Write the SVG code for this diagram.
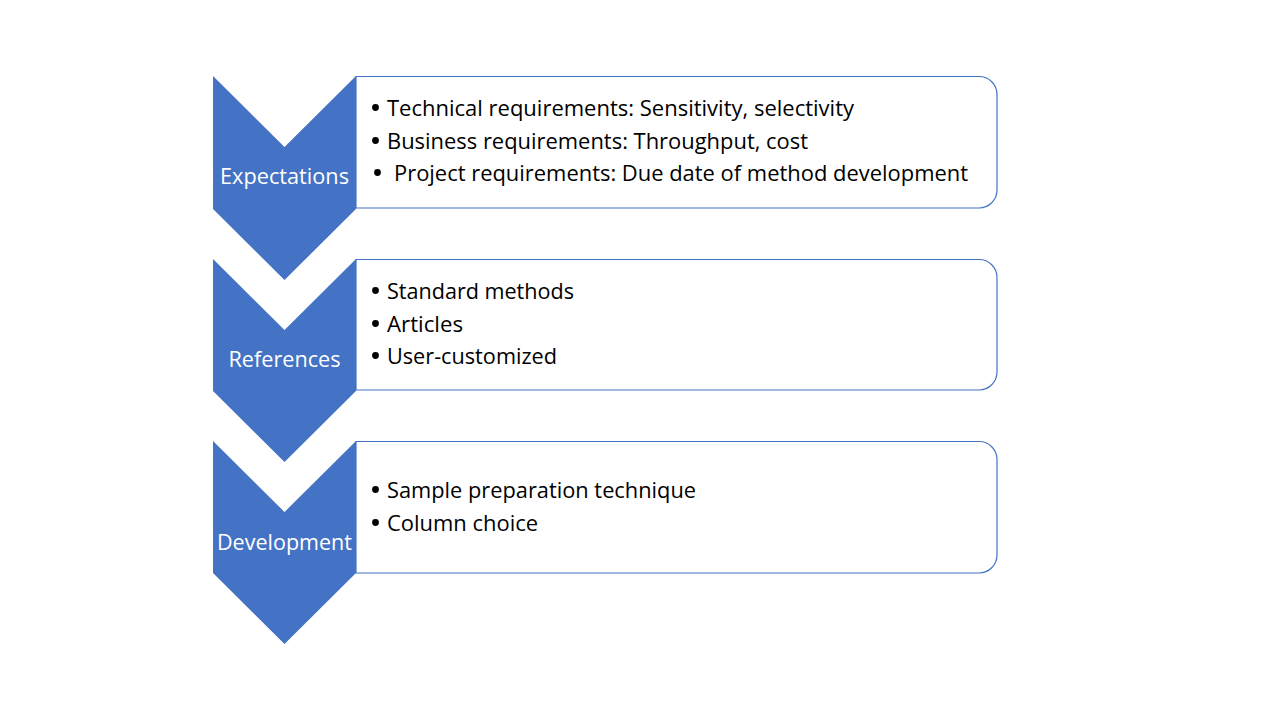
<svg xmlns="http://www.w3.org/2000/svg" width="1280" height="720" viewBox="0 0 1280 720">
<style>
.box{fill:#fff;stroke:#4472C4;stroke-width:1.2}
.chev{fill:#4472C4}
.lbl{font-family:"Open Sans","Noto Sans",sans-serif;font-size:21px;fill:#fff;text-anchor:middle}
.item{font-family:"Open Sans","Noto Sans",sans-serif;font-size:21px;fill:#000}
.dot{fill:#000}
</style>
<rect width="1280" height="720" fill="#fff"/>
<g id="step1">
<path class="box" d="M356,76.5 H979 A18,18 0 0 1 997,94.5 V190 A18,18 0 0 1 979,208 H356 Z"/>
<path class="chev" d="M213,76 L284.5,147 L356,76 L356,209 L284.5,280 L213,209 Z"/>
<text class="lbl" x="284.5" y="184" textLength="129" lengthAdjust="spacingAndGlyphs">Expectations</text>
<circle class="dot" cx="375.5" cy="107.5" r="3.4"/>
<text class="item" x="387" y="116" textLength="467" lengthAdjust="spacingAndGlyphs">Technical requirements: Sensitivity, selectivity</text>
<circle class="dot" cx="375.5" cy="140.5" r="3.4"/>
<text class="item" x="387" y="149" textLength="421" lengthAdjust="spacingAndGlyphs">Business requirements: Throughput, cost</text>
<circle class="dot" cx="377.5" cy="172.5" r="3.4"/>
<text class="item" x="394" y="181" textLength="574" lengthAdjust="spacingAndGlyphs">Project requirements: Due date of method development</text>
</g>
<g id="step2">
<path class="box" d="M356,259.5 H979 A18,18 0 0 1 997,277.5 V372 A18,18 0 0 1 979,390 H356 Z"/>
<path class="chev" d="M213,259 L284.5,330 L356,259 L356,391 L284.5,462 L213,391 Z"/>
<text class="lbl" x="284.5" y="367" textLength="112" lengthAdjust="spacingAndGlyphs">References</text>
<circle class="dot" cx="375.5" cy="290.5" r="3.4"/>
<text class="item" x="387" y="299" textLength="187" lengthAdjust="spacingAndGlyphs">Standard methods</text>
<circle class="dot" cx="375.5" cy="323.5" r="3.4"/>
<text class="item" x="387" y="332" textLength="76" lengthAdjust="spacingAndGlyphs">Articles</text>
<circle class="dot" cx="375.5" cy="355.5" r="3.4"/>
<text class="item" x="387" y="364" textLength="170" lengthAdjust="spacingAndGlyphs">User-customized</text>
</g>
<g id="step3">
<path class="box" d="M356,441.5 H979 A18,18 0 0 1 997,459.5 V555 A18,18 0 0 1 979,573 H356 Z"/>
<path class="chev" d="M213,441 L284.5,512 L356,441 L356,573 L284.5,644 L213,573 Z"/>
<text class="lbl" x="284.5" y="550" textLength="135" lengthAdjust="spacingAndGlyphs">Development</text>
<circle class="dot" cx="375.5" cy="489.5" r="3.4"/>
<text class="item" x="387" y="498" textLength="309" lengthAdjust="spacingAndGlyphs">Sample preparation technique</text>
<circle class="dot" cx="375.5" cy="522.5" r="3.4"/>
<text class="item" x="387" y="531" textLength="151" lengthAdjust="spacingAndGlyphs">Column choice</text>
</g>
<g id="connectors"></g>
</svg>
